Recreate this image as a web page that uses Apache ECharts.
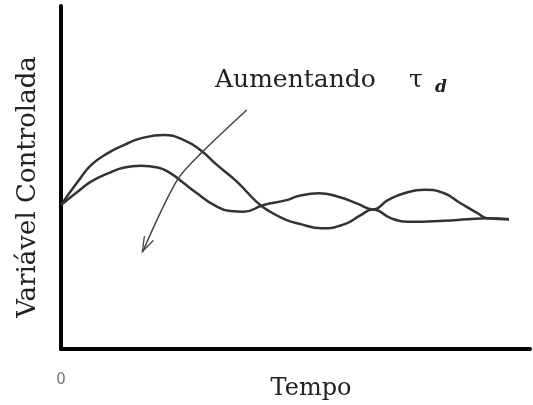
<!DOCTYPE html>
<html>
<head>
<meta charset="utf-8">
<script src="https://cdn.jsdelivr.net/npm/echarts@6/dist/echarts.min.js"></script>
<style>
  html, body { margin: 0; padding: 0; background: #fff; }
  #chart { width: 533px; height: 405px; }
</style>
</head>
<body>
<div id="chart"></div>
<script>
// resposta da variável controlada (unidades arbitrárias, 0..100)
const tempoA = [0, 3.6, 6.4, 10.0, 13.5, 17.0, 22.0, 26.2, 29.7, 33.3, 37.5, 41.7, 44.6, 48.1, 50.6, 55.6, 60.5, 64.0, 66.5, 70.4, 74.6, 81.7, 86.7, 90.9, 95.5];
const respA = [42.0, 48.8, 53.6, 57.1, 59.5, 61.4, 62.4, 60.9, 58.0, 53.6, 48.8, 42.9, 40.0, 37.6, 36.6, 35.2, 36.4, 39.1, 40.7, 38.1, 37.1, 37.4, 37.8, 38.1, 37.8];
const tempoB = [0, 3.6, 6.4, 10.0, 13.5, 17.0, 20.6, 23.4, 26.2, 29.0, 32.6, 36.1, 38.9, 43.2, 48.1, 50.6, 54.9, 59.1, 63.3, 66.5, 69.7, 73.2, 77.5, 81.7, 85.2, 88.8, 90.9, 95.5];
const respB = [42.0, 45.9, 48.8, 51.2, 52.9, 53.4, 52.9, 51.2, 48.3, 45.4, 42.0, 40.2, 40.0, 42.0, 43.4, 44.6, 45.4, 44.4, 42.3, 40.7, 43.4, 45.4, 46.4, 45.4, 42.5, 39.6, 38.1, 37.8];
// seta "Aumentando τd"
const setaX = [39.6, 30.1, 24.8, 17.4];
const setaY = [69.7, 57.4, 49.3, 28.3];

const chart = echarts.init(document.getElementById('chart'));

const pares = (xs, ys) => xs.map((x, i) => [x, ys[i]]);
const setaData = pares(setaX, setaY).map((p, i, arr) => {
  if (i < arr.length - 1) return p;
  return {
    value: p,
    symbol: 'path://M0,12L6,0L12,12',
    symbolSize: [10, 15],
    symbolRotate: 154,
    symbolOffset: [3, -7],
    itemStyle: { color: 'transparent', borderColor: '#444', borderWidth: 1.5 }
  };
});

const option = {
  animation: false,
  backgroundColor: '#fff',
  grid: { left: 61, right: 0, top: 6, bottom: 56 },
  xAxis: {
    type: 'value',
    min: 0,
    max: 100,
    splitLine: { show: false },
    axisTick: { show: false },
    axisLine: { show: true, onZero: false, lineStyle: { color: '#000', width: 4 } },
    axisLabel: {
      margin: 24,
      color: '#777',
      fontSize: 15,
      fontFamily: 'DejaVu Sans',
      formatter: v => (v === 0 ? '0' : '')
    }
  },
  yAxis: {
    type: 'value',
    min: 0,
    max: 100,
    splitLine: { show: false },
    axisTick: { show: false },
    axisLabel: { show: false },
    axisLine: { show: true, onZero: false, lineStyle: { color: '#000', width: 4 } }
  },
  graphic: [
    {
      type: 'text', x: 28, y: 187, rotation: Math.PI / 2,
      style: { text: 'Variável Controlada', font: '26px "DejaVu Serif"', fill: '#222', align: 'center', verticalAlign: 'middle' }
    },
    {
      type: 'text', x: 311, y: 389,
      style: { text: 'Tempo', font: '24px "DejaVu Serif"', fill: '#222', align: 'center', verticalAlign: 'middle' }
    },
    {
      type: 'text', x: 215, y: 80,
      style: { text: 'Aumentando', font: '25px "DejaVu Serif"', fill: '#222', align: 'left', verticalAlign: 'middle' }
    },
    {
      type: 'text', x: 409, y: 80,
      style: { text: 'τ', font: '25px "DejaVu Serif"', fill: '#222', align: 'left', verticalAlign: 'middle' }
    },
    {
      type: 'text', x: 435, y: 88,
      style: { text: 'd', font: 'italic bold 17px "DejaVu Serif"', fill: '#222', align: 'left', verticalAlign: 'middle' }
    }
  ],
  series: [
    {
      type: 'line', data: pares(tempoA, respA), smooth: 0.5, symbol: 'none',
      lineStyle: { color: '#333', width: 2.5 }
    },
    {
      type: 'line', data: pares(tempoB, respB), smooth: 0.5, symbol: 'none',
      lineStyle: { color: '#333', width: 2.5 }
    },
    {
      type: 'line', data: setaData, smooth: 0.3, symbol: 'none', showSymbol: true,
      lineStyle: { color: '#444', width: 1.5 }
    }
  ]
};

chart.setOption(option);
</script>
</body>
</html>
